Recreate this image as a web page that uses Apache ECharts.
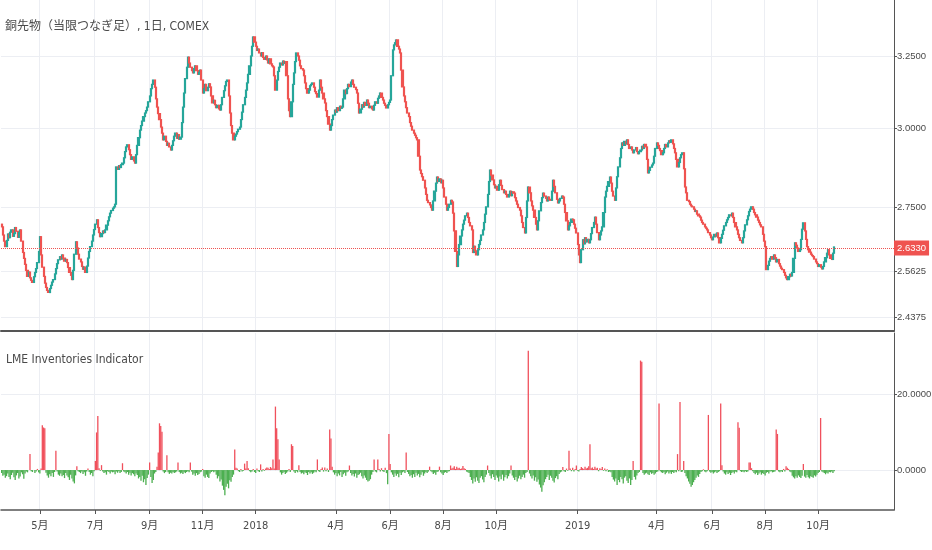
<!DOCTYPE html>
<html>
<head>
<meta charset="utf-8">
<script src="https://cdn.jsdelivr.net/npm/echarts@6/dist/echarts.min.js"></script>
<style>
html,body{margin:0;padding:0;background:#fff;}
#chart{width:932px;height:550px;}
</style>
</head>
<body>
<div id="chart"></div>
<script>
// ---- data ----
const startDate = '2017-03-17';        // first trading day shown
const slotCount = 724;                  // weekday slots on the time axis (incl. empty right margin)
const firstOpen = 2.700;

// daily closes, COMEX copper (USD/lb)
const closes = [
2.692,2.668,2.650,2.634,2.652,2.671,2.660,2.676,2.683,2.664,
2.672,2.690,2.679,2.661,2.675,2.683,2.650,2.617,2.600,2.583,
2.566,2.549,2.561,2.545,2.538,2.532,2.548,2.560,2.571,2.588,
2.620,2.663,2.610,2.575,2.549,2.530,2.518,2.510,2.504,2.515,
2.524,2.533,2.540,2.556,2.571,2.585,2.596,2.605,2.598,2.610,
2.601,2.592,2.597,2.588,2.574,2.560,2.552,2.540,2.566,2.612,
2.648,2.630,2.612,2.598,2.590,2.577,2.569,2.575,2.560,2.578,
2.601,2.620,2.634,2.650,2.668,2.684,2.700,2.713,2.690,2.675,
2.663,2.672,2.680,2.675,2.683,2.697,2.710,2.722,2.733,2.741,
2.748,2.752,2.760,2.876,2.868,2.880,2.874,2.883,2.888,2.905,
2.925,2.940,2.947,2.931,2.915,2.900,2.908,2.895,2.888,2.915,
2.945,2.970,2.995,3.010,3.025,3.040,3.052,3.060,3.072,3.090,
3.110,3.135,3.150,3.165,3.140,3.100,3.072,3.050,3.030,3.005,
2.985,2.963,2.975,2.958,2.945,2.952,2.940,2.930,2.945,2.960,
2.975,2.985,2.968,2.980,2.965,2.972,3.020,3.072,3.120,3.170,
3.210,3.246,3.225,3.210,3.198,3.190,3.205,3.215,3.198,3.185,
3.192,3.200,3.165,3.120,3.135,3.150,3.128,3.140,3.152,3.141,
3.110,3.086,3.095,3.080,3.070,3.078,3.066,3.062,3.080,3.105,
3.128,3.145,3.160,3.165,3.110,3.052,3.010,2.985,2.963,2.975,
2.982,2.990,2.998,3.005,3.030,3.055,3.080,3.105,3.130,3.155,
3.185,3.215,3.250,3.285,3.319,3.300,3.285,3.270,3.275,3.261,
3.250,3.262,3.245,3.238,3.250,3.236,3.225,3.240,3.222,3.215,
3.211,3.180,3.130,3.165,3.195,3.210,3.225,3.218,3.232,3.224,
3.230,3.180,3.100,3.060,3.040,3.090,3.150,3.190,3.230,3.261,
3.250,3.235,3.215,3.205,3.200,3.180,3.155,3.135,3.120,3.130,
3.145,3.150,3.155,3.140,3.125,3.118,3.106,3.130,3.165,3.140,
3.120,3.100,3.086,3.060,3.040,3.015,2.995,3.010,3.030,3.045,
3.062,3.055,3.070,3.060,3.075,3.068,3.072,3.100,3.130,3.118,
3.135,3.150,3.142,3.158,3.165,3.150,3.140,3.132,3.120,3.085,
3.052,3.065,3.080,3.072,3.088,3.078,3.096,3.085,3.070,3.075,
3.066,3.062,3.078,3.090,3.085,3.102,3.110,3.120,3.105,3.096,
3.085,3.078,3.069,3.080,3.088,3.096,3.180,3.272,3.290,3.298,
3.308,3.285,3.275,3.261,3.200,3.141,3.110,3.090,3.070,3.052,
3.040,3.020,3.008,2.995,2.985,2.978,2.970,2.963,2.910,2.866,
2.855,2.845,2.834,2.810,2.790,2.772,2.765,2.758,2.750,2.742,
2.770,2.800,2.825,2.844,2.830,2.838,2.826,2.834,2.810,2.782,
2.760,2.742,2.750,2.760,2.772,2.767,2.733,2.680,2.620,2.577,
2.610,2.640,2.665,2.683,2.700,2.712,2.725,2.733,2.720,2.705,
2.695,2.683,2.617,2.635,2.622,2.610,2.625,2.640,2.652,2.668,
2.683,2.705,2.730,2.752,2.790,2.830,2.866,2.850,2.835,2.820,
2.810,2.815,2.803,2.820,2.834,2.818,2.805,2.795,2.800,2.790,
2.782,2.790,2.800,2.786,2.798,2.794,2.780,2.770,2.760,2.750,
2.742,2.725,2.705,2.690,2.674,2.720,2.770,2.813,2.795,2.770,
2.755,2.742,2.720,2.700,2.683,2.710,2.740,2.765,2.780,2.794,
2.785,2.778,2.770,2.782,2.775,2.772,2.800,2.834,2.815,2.795,
2.775,2.764,2.770,2.778,2.785,2.782,2.760,2.735,2.710,2.683,
2.695,2.705,2.715,2.713,2.700,2.688,2.674,2.640,2.610,2.588,
2.625,2.654,2.642,2.660,2.648,2.655,2.645,2.654,2.672,2.690,
2.705,2.721,2.700,2.675,2.654,2.668,2.680,2.692,2.735,2.782,
2.800,2.815,2.830,2.844,2.825,2.800,2.785,2.772,2.810,2.845,
2.876,2.905,2.935,2.953,2.945,2.958,2.950,2.963,2.948,2.935,
2.940,2.930,2.921,2.930,2.938,2.925,2.918,2.925,2.930,2.942,
2.935,2.948,2.940,2.900,2.857,2.865,2.875,2.882,2.888,2.910,
2.935,2.953,2.945,2.935,2.928,2.915,2.921,2.935,2.948,2.940,
2.953,2.960,2.955,2.963,2.950,2.935,2.921,2.900,2.876,2.890,
2.905,2.915,2.921,2.870,2.813,2.795,2.772,2.768,2.760,2.755,
2.752,2.745,2.738,2.740,2.730,2.725,2.721,2.712,2.705,2.700,
2.692,2.688,2.683,2.675,2.668,2.660,2.654,2.662,2.670,2.665,
2.674,2.660,2.645,2.658,2.670,2.682,2.695,2.705,2.713,2.720,
2.728,2.725,2.733,2.720,2.705,2.692,2.683,2.670,2.660,2.652,
2.645,2.660,2.680,2.698,2.713,2.725,2.738,2.745,2.752,2.745,
2.735,2.728,2.721,2.712,2.705,2.698,2.692,2.670,2.650,2.634,
2.568,2.580,2.592,2.600,2.605,2.598,2.610,2.602,2.590,2.597,
2.585,2.578,2.572,2.568,2.560,2.552,2.545,2.540,2.548,2.555,
2.550,2.560,2.600,2.645,2.638,2.630,2.620,2.625,2.655,2.685,
2.704,2.680,2.655,2.634,2.625,2.618,2.612,2.608,2.605,2.598,
2.590,2.585,2.577,2.582,2.575,2.570,2.577,2.590,2.602,2.615,
2.625,2.610,2.600,2.597,2.615,2.633
];

// LME Inventories Indicator (histogram)
const indicator = [
-0.8,-1.5,-1.2,-2.0,-1.6,-0.9,-1.8,-2.4,-1.3,-0.7,
-1.9,-2.6,-1.4,-0.8,-2.2,-1.7,-0.6,-1.1,-2.3,-0.9,
-0.4,-0.6,0,4.2,-0.3,-0.5,0,-0.8,-0.4,0.3,
-0.6,-0.9,0.4,11.8,11.2,11.0,-0.7,-1.4,-2.0,-1.1,
-1.6,-0.8,-1.8,-0.5,5.1,-0.4,-1.2,-1.5,-0.9,-1.6,
-1.3,-2.1,-0.8,-1.4,-1.9,-2.6,-1.2,-2.2,-3.0,-3.5,
-1.4,1.0,-0.3,-0.5,-0.8,-0.4,-1.0,-0.6,-1.5,-0.4,
0.4,-0.5,-1.2,-0.8,-1.6,-0.3,2.4,9.9,14.2,0.5,
-0.2,1.3,-0.4,-0.8,-0.6,-1.2,-0.3,-0.5,-0.9,-0.4,
-0.6,-0.5,-1.1,-0.4,-0.7,-0.3,-0.8,-0.5,1.8,-0.4,
-0.6,-0.9,-0.5,-1.2,-0.7,-1.4,-0.8,-1.1,-1.6,-0.9,
-1.3,-2.2,-1.8,-2.8,-1.5,-3.2,-2.4,-3.9,-2.1,-1.2,
2.0,-1.8,-3.4,-2.6,-0.9,-0.5,0.9,4.6,12.3,11.6,
10.1,-0.4,-0.8,-0.5,3.9,-0.6,-1.0,-0.7,-0.9,-0.5,
-0.8,-0.6,-0.4,2.0,-0.5,-0.9,-0.7,-1.0,-0.6,-0.8,
-0.5,-0.3,-0.6,2.0,-0.4,-1.2,-0.9,-1.5,-0.8,-1.3,
-1.0,-0.6,-0.4,0.3,-1.6,-2.0,-1.2,-1.8,-2.1,-0.9,
-0.5,-0.3,-0.6,-0.4,-1.2,-2.2,-1.6,-3.0,-2.5,-4.1,
-5.2,-6.6,-4.4,-3.6,-4.8,-2.7,-3.1,-1.8,-1.2,5.4,
0.6,0.4,-0.3,-0.5,0.3,-0.4,-0.2,1.7,0.4,2.4,
0.5,-0.3,-0.6,-0.4,0.3,-0.5,-0.8,0.4,-0.3,-0.5,
1.5,-0.4,0.3,-0.2,0.4,0.7,0.6,0.3,0.8,0.5,
2.8,0.4,16.7,11.0,8.1,2.8,-0.6,-1.2,-0.8,-0.5,
-1.0,-0.7,-0.4,0.3,-0.5,6.8,6.3,-0.4,-0.8,-0.3,
-0.6,1.3,-0.5,-0.9,-0.7,-1.1,-0.6,-0.8,-1.3,-0.5,
-0.9,-0.6,-1.0,-0.7,-0.4,-0.6,2.8,-0.3,-0.5,0.3,
0.7,-0.4,0.7,-0.3,0.4,-0.5,10.7,8.3,0.9,-0.6,
-1.2,-0.8,-1.6,-0.9,-1.4,-0.5,-1.8,-1.1,-0.7,-1.5,
-0.6,-0.4,1.2,-0.8,-1.4,-1.0,-1.7,-0.9,-2.0,-1.3,
-1.1,-0.7,-1.6,-2.2,-1.4,-2.0,-2.6,-3.0,-2.8,-2.4,
-1.2,-0.5,2.8,-0.4,-0.6,2.8,0.3,-0.4,0.5,-0.3,
-0.5,0.6,-0.8,-3.7,9.5,1.6,-0.6,-1.2,-1.8,-0.9,
-1.5,-1.0,-1.9,-0.7,-1.3,-0.6,-0.4,-0.8,4.6,-0.5,
-1.0,-1.6,-1.3,-2.0,-1.1,-1.8,-0.7,-1.4,-1.0,-1.9,
-1.2,-0.6,-1.5,-0.9,-0.5,-0.8,-0.4,0.9,-0.3,-0.6,
-1.0,-0.7,-1.2,-0.5,-0.4,0.9,-0.6,-0.9,-1.3,-0.7,
-0.5,-0.8,-0.4,-0.3,1.2,0.4,0.6,1.0,0.3,0.9,
0.5,0.6,0.3,0.4,1.1,0.5,0.3,-0.4,-0.6,-0.8,
-1.8,-2.6,-3.5,-2.2,-3.1,-1.9,-2.8,-3.4,-2.0,-1.6,
-2.5,-3.2,-1.8,-1.2,1.2,-0.8,-1.5,-2.2,-1.1,-1.8,
-2.6,-1.4,-2.0,-3.0,-1.7,-2.4,-1.2,-2.8,-1.9,-1.3,
-2.2,-1.6,-0.9,1.2,-1.4,-2.0,-2.6,-1.8,-3.0,-2.2,
-1.5,-2.4,-1.8,-1.2,-2.0,-0.8,-0.5,31.4,-0.9,-1.6,
-2.2,-1.4,-2.8,-1.9,-3.1,-2.5,-3.8,-4.6,-5.7,-4.0,
-3.2,-2.4,-1.8,-1.2,-2.6,-1.5,-2.0,-2.8,-3.3,-2.1,
-1.6,-2.4,-1.0,-0.6,-0.4,0.8,-0.3,-0.5,0.4,-0.2,
5.1,0.4,-0.3,0.6,-0.4,0.3,1.2,-0.2,-0.4,0.3,
0.8,0.5,0.3,0.9,0.4,0.6,1.0,6.8,0.5,0.7,
0.3,0.9,0.4,0.6,-0.3,0.5,0.3,0.8,-0.2,0.4,
-0.3,0.2,-0.5,-0.4,-0.6,-1.8,-2.5,-3.0,-2.2,-3.9,
-2.6,-3.2,-1.8,-2.4,-3.5,-2.0,-1.6,-2.8,-3.4,-2.2,
-3.9,-2.6,2.4,-1.8,-2.5,-1.4,-0.8,-0.5,28.8,28.5,
-0.8,-1.2,-0.9,-0.7,-1.1,-1.3,-0.6,-1.0,-0.8,-1.2,
-0.9,-0.5,-0.4,17.5,-0.3,-0.6,-0.8,-0.5,-1.1,-0.7,
-0.4,-0.9,-0.6,-1.0,-0.5,-0.8,-0.4,-0.6,4.2,-0.3,
17.9,-0.5,-0.4,2.4,-0.8,-1.6,-2.2,-3.0,-3.6,-4.4,
-3.9,-3.2,-2.6,-2.0,-1.4,-1.8,-1.0,-0.5,-0.3,0.2,
-0.4,-0.6,-0.3,14.5,-0.4,-0.7,-0.5,-0.9,-0.6,-0.4,
-0.8,-0.5,-0.3,17.5,1.3,-0.4,-0.9,-1.2,-0.6,-1.0,
-0.7,-1.3,-0.8,-0.5,-0.9,-0.4,-0.6,12.6,11.1,-0.3,
-0.5,-0.4,-0.6,-0.3,-0.5,-0.4,2.0,2.0,0.5,-0.3,
-0.8,-1.1,-0.7,-1.3,-0.9,-0.6,-1.2,-0.8,-1.0,-1.4,
-0.7,-0.5,-0.9,-0.4,-0.3,-0.6,-0.5,-0.4,10.7,9.5,
-0.4,-0.6,-0.3,-0.5,0.3,-0.4,1.0,0.6,0.3,-0.4,
-0.6,-1.5,-1.9,-2.2,-1.6,-2.0,-1.4,-1.8,-2.1,-1.5,
1.6,-1.7,-2.0,-1.3,-1.9,-2.2,-1.6,-1.8,-2.0,-1.4,
-1.7,-1.2,-0.8,-0.5,13.7,-0.4,-0.6,-0.8,-1.1,-0.7,
-0.9,-0.5,-0.6,-0.4,-0.8,-0.3
];

// tick labels
const monthTickDates  = ['2017-05-01','2017-07-03','2017-09-01','2017-11-01','2018-01-01','2018-04-02','2018-06-01','2018-08-01','2018-10-01','2019-01-01','2019-04-01','2019-06-03','2019-08-01','2019-10-01'];
const monthTickLabels = ['5月','7月','9月','11月','2018','4月','6月','8月','10月','2019','4月','6月','8月','10月'];
const priceTicks = [2.4375, 2.5625, 2.75, 3.0, 3.25];
const indicatorTicks = [0, 20];
const lastPrice = 2.633;

// ---- build ----
const dates = [];
{
  let t = Date.parse(startDate + 'T00:00:00Z');
  while (dates.length < slotCount) {
    const dt = new Date(t);
    const wd = dt.getUTCDay();
    if (wd !== 0 && wd !== 6) dates.push(dt.toISOString().slice(0, 10));
    t += 86400000;
  }
}
const labelMap = {};
monthTickDates.forEach((d, i) => { labelMap[d] = monthTickLabels[i]; });
const isMonthTick = (idx, val) => Object.prototype.hasOwnProperty.call(labelMap, val);

const candles = closes.map((c, i) => {
  const o = i === 0 ? firstOpen : closes[i - 1];
  return [o, c, Math.min(o, c), Math.max(o, c)];
});

const UP = '#26a69a', DOWN = '#ef5350';
const HRED = '#f0505c', HGREEN = '#4caf50';
const GRID = '#eceef3', AX = '#555555', TXT = '#4a4a4a';
const FONT = "'DejaVu Sans Condensed','Noto Sans CJK JP',sans-serif";
const NUMFONT = "'Liberation Sans',Arial,sans-serif";

const chart = echarts.init(document.getElementById('chart'), null, {renderer: 'canvas'});
chart.setOption({
  animation: false,
  backgroundColor: '#ffffff',
  textStyle: {fontFamily: FONT},
  title: [
    {text: '銅先物（当限つなぎ足）, 1日, COMEX', left: 5, top: 21, padding: 0,
     textStyle: {fontSize: 12, fontWeight: 'normal', color: TXT, fontFamily: FONT}},
    {text: 'LME Inventories Indicator', left: 6, top: 354, padding: 0,
     textStyle: {fontSize: 12, fontWeight: 'normal', color: TXT, fontFamily: FONT}}
  ],
  grid: [
    {left: 1, right: 38, top: 0, height: 331, outerBoundsMode: 'none', containLabel: false},
    {left: 1, right: 38, top: 333, height: 177, outerBoundsMode: 'none', containLabel: false}
  ],
  xAxis: [
    {type: 'category', gridIndex: 0, data: dates, boundaryGap: true,
     axisLine: {show: true, onZero: false, lineStyle: {color: AX, width: 2}},
     axisTick: {show: false}, axisLabel: {show: false},
     splitLine: {show: true, interval: isMonthTick, lineStyle: {color: GRID, width: 1}}},
    {type: 'category', gridIndex: 1, data: dates, boundaryGap: true,
     axisLine: {show: true, onZero: false, lineStyle: {color: AX, width: 1.5}},
     axisTick: {show: true, interval: isMonthTick, alignWithLabel: true, length: 4, lineStyle: {color: AX}},
     axisLabel: {show: true, interval: isMonthTick, formatter: v => labelMap[v] || '',
                 color: TXT, fontSize: 11, margin: 11, fontFamily: FONT},
     splitLine: {show: true, interval: isMonthTick, lineStyle: {color: GRID, width: 1}}}
  ],
  yAxis: [
    {type: 'log', logBase: 10, gridIndex: 0, position: 'right', min: 2.400, max: 3.457, scale: true,
     axisLine: {show: true, lineStyle: {color: AX, width: 1}},
     axisTick: {show: true, customValues: priceTicks, length: 3, lineStyle: {color: AX}},
     axisLabel: {show: true, customValues: priceTicks, formatter: v => Number(v).toFixed(4),
                 color: TXT, fontSize: 9.5, margin: 3, fontFamily: NUMFONT},
     splitLine: {show: true, lineStyle: {color: GRID, width: 1}}},
    {type: 'value', gridIndex: 1, position: 'right', min: -10.5, max: 36.05,
     axisLine: {show: true, lineStyle: {color: AX, width: 1}},
     axisTick: {show: true, customValues: indicatorTicks, length: 3, lineStyle: {color: AX}},
     axisLabel: {show: true, customValues: indicatorTicks, formatter: v => Number(v).toFixed(4),
                 color: TXT, fontSize: 9.5, margin: 3, fontFamily: NUMFONT},
     splitLine: {show: true, lineStyle: {color: GRID, width: 1}}}
  ],
  series: [
    {type: 'candlestick', xAxisIndex: 0, yAxisIndex: 0, data: candles, large: false,
     barWidth: 1.6,
     itemStyle: {color: UP, color0: DOWN, borderColor: UP, borderColor0: DOWN, borderWidth: 1.2},
     markLine: {silent: true, symbol: ['none', 'none'], animation: false,
       lineStyle: {color: DOWN, type: 'dotted', width: 1},
       label: {show: true, position: 'end', distance: 0, formatter: () => lastPrice.toFixed(4),
               color: '#ffffff', backgroundColor: DOWN, padding: [3, 3, 2, 3], fontSize: 9.5, fontFamily: NUMFONT},
       data: [{yAxis: lastPrice}]}},
    {type: 'bar', xAxisIndex: 1, yAxisIndex: 1, barWidth: 1.3, barGap: '-100%',
     data: indicator.map(v => ({value: v, itemStyle: {color: v >= 0 ? HRED : HGREEN}}))}
  ]
});
</script>
</body>
</html>
